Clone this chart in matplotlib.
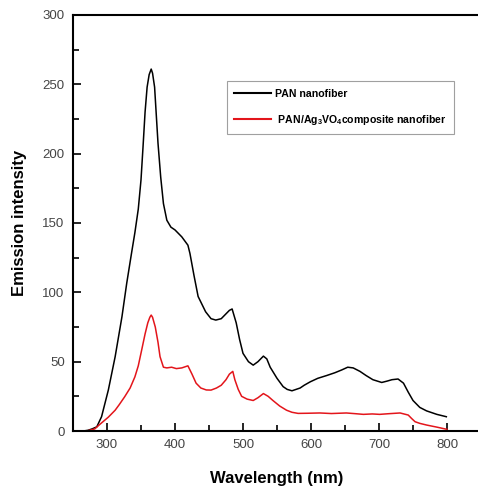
import matplotlib
matplotlib.use("Agg")
import matplotlib.pyplot as plt
from matplotlib.ticker import MultipleLocator

plt.rcParams["font.family"] = ["Liberation Sans", "DejaVu Sans"]
plt.rcParams["mathtext.fontset"] = "custom"
plt.rcParams["mathtext.bf"] = "Liberation Sans:bold"
plt.rcParams["mathtext.rm"] = "Liberation Sans"

# PAN nanofiber (black)
pan_wl = [250, 265, 272, 278, 285, 292, 302, 312, 322, 329, 336, 341, 346,
          350, 353, 356, 359, 362, 365, 367, 370, 375, 379, 383, 388, 394,
          400, 410, 419, 422, 428, 434, 438, 445, 453, 460, 468, 474, 480,
          484, 490, 495, 500, 508, 515, 522, 530, 535, 540, 550, 559, 565,
          572, 578, 584, 590, 599, 610, 623, 635, 645, 654, 662, 672, 681,
          691, 704, 712, 719, 728, 736, 743, 750, 760, 770, 785, 799]
pan_i = [0, 0, 0.5, 1.5, 3, 10.3, 29.6, 53.6, 82.4, 106.5, 128, 143, 160,
         181, 205, 230, 248, 257, 261, 258, 248, 207.6, 183, 164, 152, 147,
         145, 140, 134, 128, 112, 97, 93, 86, 81, 80, 81, 84, 87,
         88, 78, 66, 56, 50, 47.5, 50, 54, 52, 46, 38, 32, 30,
         29, 30, 31, 33, 35.5, 38, 40, 42, 44, 46, 45.5, 43, 40,
         37, 35, 36, 37, 37.5, 34.5, 28, 22, 17, 14.5, 12, 10.3]

# PAN/Ag3VO4 composite nanofiber (red)
comp_wl = [250, 270, 282, 290, 302, 312, 318, 326, 334, 341, 346, 351, 356,
           360, 363, 365, 367, 371, 375, 378, 383, 388, 395, 402, 410, 419,
           425, 431, 438, 446, 453, 461, 468, 475, 480, 485, 488, 493, 498,
           506, 515, 522, 530, 537, 544, 554, 564, 572, 581, 595, 613, 630,
           652, 665, 677, 690, 701, 715, 731, 743, 748, 753, 760, 770, 785,
           800]
comp_i = [0, 0, 1.5, 5, 10, 15, 19, 24.7, 31, 39, 47, 58.4, 70,
          78, 82, 83.6, 82, 75, 64, 53.6, 46, 45.5, 46, 45, 45.5, 47,
          41, 34.5, 31, 29.6, 29.5, 31, 33, 37, 41, 43, 37, 30, 25,
          23, 22, 24, 27, 25, 22, 18, 15, 13.5, 12.7, 12.8, 13, 12.6,
          13, 12.5, 12, 12.3, 12, 12.5, 13, 11.5, 9, 6.7, 5.5, 4.3, 2.8,
          1.2]

x_ticks = [300, 400, 500, 600, 700, 800]
y_ticks = [0, 50, 100, 150, 200, 250, 300]

fig = plt.figure(figsize=(4.78, 4.90), dpi=100)
ax = fig.add_axes([0.1527, 0.1204, 0.8536, 0.849])

ax.plot(pan_wl, pan_i, color="black", linewidth=1.1, label="PAN nanofiber")
ax.plot(comp_wl, comp_i, color="#e3151b", linewidth=1.1,
        label=r" PAN/Ag$_\mathbf{3}$VO$_\mathbf{4}$composite nanofiber")

ax.set_xlim(250, 850)
ax.set_ylim(0, 300)
ax.set_xticks(x_ticks)
ax.set_yticks(y_ticks)
ax.xaxis.set_minor_locator(MultipleLocator(50))
ax.yaxis.set_minor_locator(MultipleLocator(25))
ax.tick_params(which="both", direction="in", width=1.2, labelsize=9.5,
               labelcolor="#444444", top=False, right=False)
ax.tick_params(which="major", length=6, pad=6)
ax.tick_params(which="minor", length=4.5)
for s in ax.spines.values():
    s.set_linewidth(1.5)

ax.set_xlabel("Wavelength (nm)", fontsize=12, fontweight="bold", labelpad=14)
ax.set_ylabel("Emission intensity", fontsize=12, fontweight="bold", labelpad=11)

leg = ax.legend(loc="upper left", bbox_to_anchor=(0.377, 0.841), borderaxespad=0,
                fancybox=False, frameon=True, edgecolor="#888888",
                prop={"size": 7.6, "weight": "bold"}, handlelength=3.5,
                borderpad=0.7, labelspacing=1.35, handletextpad=0.4)
leg.get_frame().set_linewidth(0.8)
for line in leg.get_lines():
    line.set_linewidth(1.5)

fig.savefig("out.png", dpi=100)
